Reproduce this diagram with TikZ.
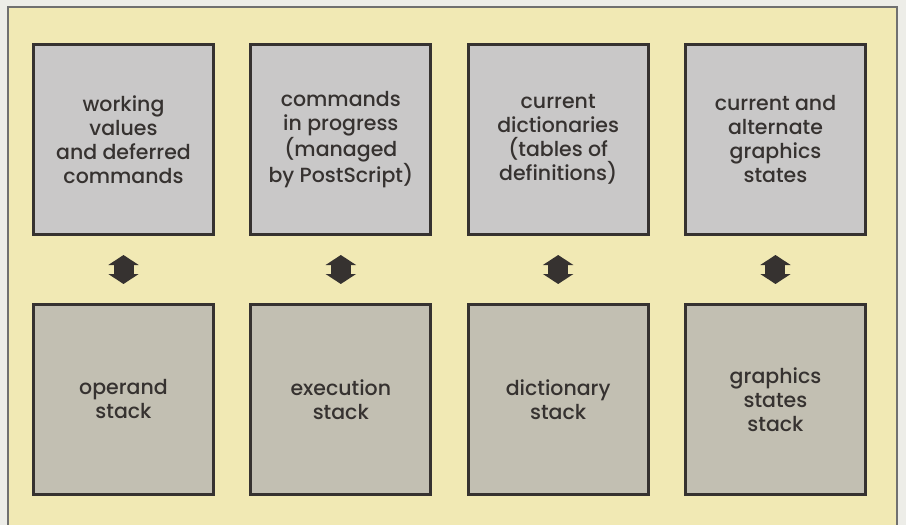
\documentclass[tikz,border=0pt]{standalone}
\usepackage{fontspec}
\setmainfont{Poppins Medium}
\usetikzlibrary{calc,arrows.meta}
\definecolor{paper}{HTML}{EDEDE8}
\definecolor{cream}{HTML}{F1E9B4}
\definecolor{slate}{HTML}{C9C8C8}
\definecolor{stone}{HTML}{C2BFB2}
\definecolor{ink}{HTML}{363230}
\definecolor{rim}{HTML}{707070}

\tikzset{
  stackbox/.style={draw=ink,line width=3pt,minimum width=180pt,minimum height=190pt,
    inner sep=0pt,outer sep=0pt,align=center,text=ink,font=\fontsize{20.5}{24}\selectfont},
  upper/.style={stackbox,fill=slate},
  lower/.style={stackbox,fill=stone},
  linkarrow/.style={draw=ink,line width=20pt,
    {Triangle[length=10pt,width=30pt]}-{Triangle[length=10pt,width=30pt]}}
}

\begin{document}
\begin{tikzpicture}[x=1pt,y=-1pt]
\useasboundingbox (0,0) rectangle (906,525);
\clip (0,0) rectangle (906,525);
\fill[paper] (0,0) rectangle (906,525);
\draw[draw=rim,fill=cream,line width=1.5pt] (8,7) rectangle (897,545);
% upper row: contents, lower row: the stacks
\foreach \i/\txtup/\txtlo in {1/{working\\values\\and deferred\\commands}/{operand\\stack},
  2/{commands\\in progress\\(managed\\by PostScript)}/{execution\\stack},
  3/{current\\dictionaries\\(tables of\\definitions)}/{dictionary\\stack},
  4/{current and\\alternate\\graphics\\states}/{graphics\\states\\stack}}{
  \node[upper] (cur\i) at ({123.5+217.33*(\i-1)},139.5) {\txtup};
  \node[lower] (stk\i) at ({123.5+217.33*(\i-1)},399.5) {\txtlo};
  \draw[linkarrow] ($(cur\i.south)+(0,20.5)$) -- ($(stk\i.north)+(0,-20.5)$);
}
\end{tikzpicture}
\end{document}
